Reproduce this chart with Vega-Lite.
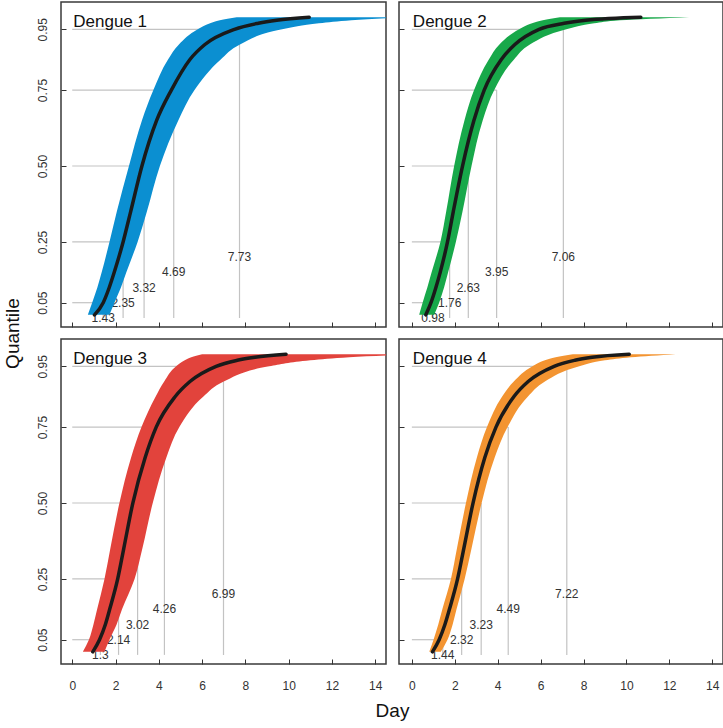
{
  "$schema": "https://vega.github.io/schema/vega-lite/v6.json",
  "background": "white",
  "padding": {"left": 2, "top": 1, "right": 0, "bottom": 0},
  "bounds": "flush",
  "spacing": {"row": 12, "column": 13},
  "columns": 2,
  "datasets": {
    "band": [
      {"panel": "Dengue 1", "p": 0.01, "lo": 0.72, "hi": 1.72},
      {"panel": "Dengue 1", "p": 0.05, "lo": 0.92, "hi": 1.95},
      {"panel": "Dengue 1", "p": 0.1, "lo": 1.16, "hi": 2.25},
      {"panel": "Dengue 1", "p": 0.15, "lo": 1.36, "hi": 2.5},
      {"panel": "Dengue 1", "p": 0.25, "lo": 1.72, "hi": 3.02},
      {"panel": "Dengue 1", "p": 0.35, "lo": 2.06, "hi": 3.45},
      {"panel": "Dengue 1", "p": 0.5, "lo": 2.62, "hi": 4.05},
      {"panel": "Dengue 1", "p": 0.65, "lo": 3.22, "hi": 4.9},
      {"panel": "Dengue 1", "p": 0.75, "lo": 3.75, "hi": 5.65},
      {"panel": "Dengue 1", "p": 0.85, "lo": 4.42, "hi": 6.85},
      {"panel": "Dengue 1", "p": 0.9, "lo": 4.93, "hi": 7.75},
      {"panel": "Dengue 1", "p": 0.95, "lo": 5.8, "hi": 9.7},
      {"panel": "Dengue 1", "p": 0.97, "lo": 6.37, "hi": 11.4},
      {"panel": "Dengue 1", "p": 0.98, "lo": 6.82, "hi": 12.9},
      {"panel": "Dengue 1", "p": 0.99, "lo": 7.6, "hi": 15.5},
      {"panel": "Dengue 2", "p": 0.01, "lo": 0.34, "hi": 1.04},
      {"panel": "Dengue 2", "p": 0.05, "lo": 0.5, "hi": 1.27},
      {"panel": "Dengue 2", "p": 0.1, "lo": 0.72, "hi": 1.5},
      {"panel": "Dengue 2", "p": 0.15, "lo": 0.92, "hi": 1.69},
      {"panel": "Dengue 2", "p": 0.25, "lo": 1.33, "hi": 2.05},
      {"panel": "Dengue 2", "p": 0.35, "lo": 1.6, "hi": 2.36},
      {"panel": "Dengue 2", "p": 0.5, "lo": 1.97, "hi": 2.78},
      {"panel": "Dengue 2", "p": 0.65, "lo": 2.45, "hi": 3.3},
      {"panel": "Dengue 2", "p": 0.75, "lo": 2.9, "hi": 3.84},
      {"panel": "Dengue 2", "p": 0.85, "lo": 3.58, "hi": 4.75},
      {"panel": "Dengue 2", "p": 0.9, "lo": 4.08, "hi": 5.5},
      {"panel": "Dengue 2", "p": 0.95, "lo": 5.0, "hi": 7.2},
      {"panel": "Dengue 2", "p": 0.97, "lo": 5.6, "hi": 8.5},
      {"panel": "Dengue 2", "p": 0.98, "lo": 6.1, "hi": 9.7},
      {"panel": "Dengue 2", "p": 0.99, "lo": 6.9, "hi": 12.92},
      {"panel": "Dengue 3", "p": 0.01, "lo": 0.49, "hi": 1.49},
      {"panel": "Dengue 3", "p": 0.05, "lo": 0.77, "hi": 1.72},
      {"panel": "Dengue 3", "p": 0.1, "lo": 0.98, "hi": 2.05},
      {"panel": "Dengue 3", "p": 0.15, "lo": 1.15, "hi": 2.3},
      {"panel": "Dengue 3", "p": 0.25, "lo": 1.49, "hi": 2.88},
      {"panel": "Dengue 3", "p": 0.35, "lo": 1.76, "hi": 3.24},
      {"panel": "Dengue 3", "p": 0.5, "lo": 2.18, "hi": 3.72},
      {"panel": "Dengue 3", "p": 0.65, "lo": 2.72, "hi": 4.35},
      {"panel": "Dengue 3", "p": 0.75, "lo": 3.2, "hi": 4.95},
      {"panel": "Dengue 3", "p": 0.85, "lo": 3.85, "hi": 6.05},
      {"panel": "Dengue 3", "p": 0.9, "lo": 4.25, "hi": 7.0},
      {"panel": "Dengue 3", "p": 0.95, "lo": 4.8, "hi": 9.1},
      {"panel": "Dengue 3", "p": 0.97, "lo": 5.2, "hi": 11.0},
      {"panel": "Dengue 3", "p": 0.98, "lo": 5.5, "hi": 12.8},
      {"panel": "Dengue 3", "p": 0.99, "lo": 6.0, "hi": 16.0},
      {"panel": "Dengue 4", "p": 0.01, "lo": 0.81, "hi": 1.35},
      {"panel": "Dengue 4", "p": 0.05, "lo": 1.01, "hi": 1.66},
      {"panel": "Dengue 4", "p": 0.1, "lo": 1.23, "hi": 1.9},
      {"panel": "Dengue 4", "p": 0.15, "lo": 1.42, "hi": 2.08},
      {"panel": "Dengue 4", "p": 0.25, "lo": 1.82, "hi": 2.46},
      {"panel": "Dengue 4", "p": 0.35, "lo": 2.1, "hi": 2.78},
      {"panel": "Dengue 4", "p": 0.5, "lo": 2.52, "hi": 3.25},
      {"panel": "Dengue 4", "p": 0.65, "lo": 3.03, "hi": 3.86},
      {"panel": "Dengue 4", "p": 0.75, "lo": 3.5, "hi": 4.46},
      {"panel": "Dengue 4", "p": 0.85, "lo": 4.2, "hi": 5.4},
      {"panel": "Dengue 4", "p": 0.9, "lo": 4.75, "hi": 6.2},
      {"panel": "Dengue 4", "p": 0.95, "lo": 5.62, "hi": 7.8},
      {"panel": "Dengue 4", "p": 0.97, "lo": 6.2, "hi": 9.0},
      {"panel": "Dengue 4", "p": 0.98, "lo": 6.7, "hi": 10.2},
      {"panel": "Dengue 4", "p": 0.99, "lo": 7.5, "hi": 12.3}
    ],
    "med": [
      {"panel": "Dengue 1", "p": 0.01, "x": 1.03},
      {"panel": "Dengue 1", "p": 0.05, "x": 1.43},
      {"panel": "Dengue 1", "p": 0.1, "x": 1.71},
      {"panel": "Dengue 1", "p": 0.15, "x": 1.94},
      {"panel": "Dengue 1", "p": 0.25, "x": 2.35},
      {"panel": "Dengue 1", "p": 0.35, "x": 2.7},
      {"panel": "Dengue 1", "p": 0.5, "x": 3.22},
      {"panel": "Dengue 1", "p": 0.65, "x": 3.9},
      {"panel": "Dengue 1", "p": 0.75, "x": 4.58},
      {"panel": "Dengue 1", "p": 0.85, "x": 5.43},
      {"panel": "Dengue 1", "p": 0.9, "x": 6.13},
      {"panel": "Dengue 1", "p": 0.95, "x": 7.5},
      {"panel": "Dengue 1", "p": 0.97, "x": 8.6},
      {"panel": "Dengue 1", "p": 0.98, "x": 9.45},
      {"panel": "Dengue 1", "p": 0.99, "x": 10.95},
      {"panel": "Dengue 2", "p": 0.01, "x": 0.65},
      {"panel": "Dengue 2", "p": 0.05, "x": 0.89},
      {"panel": "Dengue 2", "p": 0.1, "x": 1.12},
      {"panel": "Dengue 2", "p": 0.15, "x": 1.32},
      {"panel": "Dengue 2", "p": 0.25, "x": 1.66},
      {"panel": "Dengue 2", "p": 0.35, "x": 1.93},
      {"panel": "Dengue 2", "p": 0.5, "x": 2.36},
      {"panel": "Dengue 2", "p": 0.65, "x": 2.89},
      {"panel": "Dengue 2", "p": 0.75, "x": 3.37},
      {"panel": "Dengue 2", "p": 0.85, "x": 4.16},
      {"panel": "Dengue 2", "p": 0.9, "x": 4.8},
      {"panel": "Dengue 2", "p": 0.95, "x": 5.93},
      {"panel": "Dengue 2", "p": 0.97, "x": 7.1},
      {"panel": "Dengue 2", "p": 0.98, "x": 8.1},
      {"panel": "Dengue 2", "p": 0.99, "x": 10.67},
      {"panel": "Dengue 3", "p": 0.01, "x": 0.95},
      {"panel": "Dengue 3", "p": 0.05, "x": 1.26},
      {"panel": "Dengue 3", "p": 0.1, "x": 1.53},
      {"panel": "Dengue 3", "p": 0.15, "x": 1.73},
      {"panel": "Dengue 3", "p": 0.25, "x": 2.1},
      {"panel": "Dengue 3", "p": 0.35, "x": 2.38},
      {"panel": "Dengue 3", "p": 0.5, "x": 2.8},
      {"panel": "Dengue 3", "p": 0.65, "x": 3.37},
      {"panel": "Dengue 3", "p": 0.75, "x": 3.88},
      {"panel": "Dengue 3", "p": 0.85, "x": 4.75},
      {"panel": "Dengue 3", "p": 0.9, "x": 5.44},
      {"panel": "Dengue 3", "p": 0.95, "x": 6.65},
      {"panel": "Dengue 3", "p": 0.97, "x": 7.63},
      {"panel": "Dengue 3", "p": 0.98, "x": 8.44},
      {"panel": "Dengue 3", "p": 0.99, "x": 9.88},
      {"panel": "Dengue 4", "p": 0.01, "x": 0.96},
      {"panel": "Dengue 4", "p": 0.05, "x": 1.27},
      {"panel": "Dengue 4", "p": 0.1, "x": 1.54},
      {"panel": "Dengue 4", "p": 0.15, "x": 1.75},
      {"panel": "Dengue 4", "p": 0.25, "x": 2.13},
      {"panel": "Dengue 4", "p": 0.35, "x": 2.42},
      {"panel": "Dengue 4", "p": 0.5, "x": 2.85},
      {"panel": "Dengue 4", "p": 0.65, "x": 3.4},
      {"panel": "Dengue 4", "p": 0.75, "x": 3.92},
      {"panel": "Dengue 4", "p": 0.85, "x": 4.75},
      {"panel": "Dengue 4", "p": 0.9, "x": 5.42},
      {"panel": "Dengue 4", "p": 0.95, "x": 6.63},
      {"panel": "Dengue 4", "p": 0.97, "x": 7.6},
      {"panel": "Dengue 4", "p": 0.98, "x": 8.4},
      {"panel": "Dengue 4", "p": 0.99, "x": 10.13}
    ],
    "quant": [
      {"panel": "Dengue 1", "p": 0.05, "q": 1.43, "lab": "1.43", "ly": 0.0},
      {"panel": "Dengue 1", "p": 0.25, "q": 2.35, "lab": "2.35", "ly": 0.05},
      {"panel": "Dengue 1", "p": 0.5, "q": 3.32, "lab": "3.32", "ly": 0.1},
      {"panel": "Dengue 1", "p": 0.75, "q": 4.69, "lab": "4.69", "ly": 0.15},
      {"panel": "Dengue 1", "p": 0.95, "q": 7.73, "lab": "7.73", "ly": 0.2},
      {"panel": "Dengue 2", "p": 0.05, "q": 0.98, "lab": "0.98", "ly": 0.0},
      {"panel": "Dengue 2", "p": 0.25, "q": 1.76, "lab": "1.76", "ly": 0.05},
      {"panel": "Dengue 2", "p": 0.5, "q": 2.63, "lab": "2.63", "ly": 0.1},
      {"panel": "Dengue 2", "p": 0.75, "q": 3.95, "lab": "3.95", "ly": 0.15},
      {"panel": "Dengue 2", "p": 0.95, "q": 7.06, "lab": "7.06", "ly": 0.2},
      {"panel": "Dengue 3", "p": 0.05, "q": 1.3, "lab": "1.3", "ly": 0.0},
      {"panel": "Dengue 3", "p": 0.25, "q": 2.14, "lab": "2.14", "ly": 0.05},
      {"panel": "Dengue 3", "p": 0.5, "q": 3.02, "lab": "3.02", "ly": 0.1},
      {"panel": "Dengue 3", "p": 0.75, "q": 4.26, "lab": "4.26", "ly": 0.15},
      {"panel": "Dengue 3", "p": 0.95, "q": 6.99, "lab": "6.99", "ly": 0.2},
      {"panel": "Dengue 4", "p": 0.05, "q": 1.44, "lab": "1.44", "ly": 0.0},
      {"panel": "Dengue 4", "p": 0.25, "q": 2.32, "lab": "2.32", "ly": 0.05},
      {"panel": "Dengue 4", "p": 0.5, "q": 3.23, "lab": "3.23", "ly": 0.1},
      {"panel": "Dengue 4", "p": 0.75, "q": 4.49, "lab": "4.49", "ly": 0.15},
      {"panel": "Dengue 4", "p": 0.95, "q": 7.22, "lab": "7.22", "ly": 0.2}
    ],
    "names": [
      {"panel": "Dengue 1"},
      {"panel": "Dengue 2"},
      {"panel": "Dengue 3"},
      {"panel": "Dengue 4"}
    ]
  },
  "concat": [
    {
      "width": 325, "height": 325,
      "layer": [
        {"data": {"name": "quant"}, "transform": [{"filter": "datum.panel === 'Dengue 1'"}],
         "mark": {"type": "rule", "color": "#c3c3c3", "strokeWidth": 1.2},
         "encoding": {
           "x": {"field": "q", "type": "quantitative", "scale": {"domain": [-0.52, 14.5], "nice": false, "zero": false},
                 "axis": {"values": [0,2,4,6,8,10,12,14], "labels": false, "title": null}},
           "y": {"field": "p", "type": "quantitative", "scale": {"domain": [-0.03, 1.04], "nice": false, "zero": false},
                 "axis": {"values": [0.05,0.25,0.5,0.75,0.95], "format": ".2f", "labelAngle": -90, "title": "Quantile", "titleY": 331, "titlePadding": 14}},
           "y2": {"datum": 0}}},
        {"data": {"name": "quant"}, "transform": [{"filter": "datum.panel === 'Dengue 1'"}],
         "mark": {"type": "rule", "color": "#c3c3c3", "strokeWidth": 1.2},
         "encoding": {"x": {"field": "q", "type": "quantitative"}, "x2": {"datum": 0}, "y": {"field": "p", "type": "quantitative"}}},
        {"data": {"name": "quant"}, "transform": [{"filter": "datum.panel === 'Dengue 1'"}],
         "mark": {"type": "text", "font": "Liberation Sans", "fontSize": 12, "color": "#333", "baseline": "middle"},
         "encoding": {"x": {"field": "q", "type": "quantitative"}, "y": {"field": "ly", "type": "quantitative"}, "text": {"field": "lab"}}},
        {"data": {"name": "band"}, "transform": [{"filter": "datum.panel === 'Dengue 1'"}],
         "mark": {"type": "area", "orient": "horizontal", "color": "#0b8fd1", "interpolate": "monotone", "clip": true},
         "encoding": {"y": {"field": "p", "type": "quantitative"}, "x": {"field": "lo", "type": "quantitative"}, "x2": {"field": "hi"}}},
        {"data": {"name": "med"}, "transform": [{"filter": "datum.panel === 'Dengue 1'"}],
         "mark": {"type": "line", "color": "#1a1a1a", "strokeWidth": 3.5, "interpolate": "monotone", "strokeCap": "round"},
         "encoding": {"y": {"field": "p", "type": "quantitative"}, "x": {"field": "x", "type": "quantitative"}}},
        {"data": {"name": "names"}, "transform": [{"filter": "datum.panel === 'Dengue 1'"}],
         "mark": {"type": "text", "font": "Liberation Sans", "fontSize": 17, "color": "#111", "align": "left", "dx": 1},
         "encoding": {"x": {"datum": 0, "type": "quantitative"}, "y": {"datum": 0.975, "type": "quantitative"}, "text": {"field": "panel"}}}
      ]
    },
    {
      "width": 324, "height": 325,
      "layer": [
        {"data": {"name": "quant"}, "transform": [{"filter": "datum.panel === 'Dengue 2'"}],
         "mark": {"type": "rule", "color": "#c3c3c3", "strokeWidth": 1.2},
         "encoding": {
           "x": {"field": "q", "type": "quantitative", "scale": {"domain": [-0.6, 14.5], "nice": false, "zero": false},
                 "axis": {"values": [0,2,4,6,8,10,12,14], "labels": false, "title": null}},
           "y": {"field": "p", "type": "quantitative", "scale": {"domain": [-0.03, 1.04], "nice": false, "zero": false},
                 "axis": {"values": [0.05,0.25,0.5,0.75,0.95], "labels": false, "title": null}},
           "y2": {"datum": 0}}},
        {"data": {"name": "quant"}, "transform": [{"filter": "datum.panel === 'Dengue 2'"}],
         "mark": {"type": "rule", "color": "#c3c3c3", "strokeWidth": 1.2},
         "encoding": {"x": {"field": "q", "type": "quantitative"}, "x2": {"datum": 0}, "y": {"field": "p", "type": "quantitative"}}},
        {"data": {"name": "quant"}, "transform": [{"filter": "datum.panel === 'Dengue 2'"}],
         "mark": {"type": "text", "font": "Liberation Sans", "fontSize": 12, "color": "#333", "baseline": "middle"},
         "encoding": {"x": {"field": "q", "type": "quantitative"}, "y": {"field": "ly", "type": "quantitative"}, "text": {"field": "lab"}}},
        {"data": {"name": "band"}, "transform": [{"filter": "datum.panel === 'Dengue 2'"}],
         "mark": {"type": "area", "orient": "horizontal", "color": "#18a84a", "interpolate": "monotone", "clip": true},
         "encoding": {"y": {"field": "p", "type": "quantitative"}, "x": {"field": "lo", "type": "quantitative"}, "x2": {"field": "hi"}}},
        {"data": {"name": "med"}, "transform": [{"filter": "datum.panel === 'Dengue 2'"}],
         "mark": {"type": "line", "color": "#1a1a1a", "strokeWidth": 3.5, "interpolate": "monotone", "strokeCap": "round"},
         "encoding": {"y": {"field": "p", "type": "quantitative"}, "x": {"field": "x", "type": "quantitative"}}},
        {"data": {"name": "names"}, "transform": [{"filter": "datum.panel === 'Dengue 2'"}],
         "mark": {"type": "text", "font": "Liberation Sans", "fontSize": 17, "color": "#111", "align": "left", "dx": 1},
         "encoding": {"x": {"datum": 0, "type": "quantitative"}, "y": {"datum": 0.975, "type": "quantitative"}, "text": {"field": "panel"}}}
      ]
    },
    {
      "width": 325, "height": 325,
      "layer": [
        {"data": {"name": "quant"}, "transform": [{"filter": "datum.panel === 'Dengue 3'"}],
         "mark": {"type": "rule", "color": "#c3c3c3", "strokeWidth": 1.2},
         "encoding": {
           "x": {"field": "q", "type": "quantitative", "scale": {"domain": [-0.52, 14.5], "nice": false, "zero": false},
                 "axis": {"values": [0,2,4,6,8,10,12,14], "title": "Day", "titleX": 331, "titlePadding": 10}},
           "y": {"field": "p", "type": "quantitative", "scale": {"domain": [-0.03, 1.04], "nice": false, "zero": false},
                 "axis": {"values": [0.05,0.25,0.5,0.75,0.95], "format": ".2f", "labelAngle": -90, "title": null}},
           "y2": {"datum": 0}}},
        {"data": {"name": "quant"}, "transform": [{"filter": "datum.panel === 'Dengue 3'"}],
         "mark": {"type": "rule", "color": "#c3c3c3", "strokeWidth": 1.2},
         "encoding": {"x": {"field": "q", "type": "quantitative"}, "x2": {"datum": 0}, "y": {"field": "p", "type": "quantitative"}}},
        {"data": {"name": "quant"}, "transform": [{"filter": "datum.panel === 'Dengue 3'"}],
         "mark": {"type": "text", "font": "Liberation Sans", "fontSize": 12, "color": "#333", "baseline": "middle"},
         "encoding": {"x": {"field": "q", "type": "quantitative"}, "y": {"field": "ly", "type": "quantitative"}, "text": {"field": "lab"}}},
        {"data": {"name": "band"}, "transform": [{"filter": "datum.panel === 'Dengue 3'"}],
         "mark": {"type": "area", "orient": "horizontal", "color": "#e2433c", "interpolate": "monotone", "clip": true},
         "encoding": {"y": {"field": "p", "type": "quantitative"}, "x": {"field": "lo", "type": "quantitative"}, "x2": {"field": "hi"}}},
        {"data": {"name": "med"}, "transform": [{"filter": "datum.panel === 'Dengue 3'"}],
         "mark": {"type": "line", "color": "#1a1a1a", "strokeWidth": 3.5, "interpolate": "monotone", "strokeCap": "round"},
         "encoding": {"y": {"field": "p", "type": "quantitative"}, "x": {"field": "x", "type": "quantitative"}}},
        {"data": {"name": "names"}, "transform": [{"filter": "datum.panel === 'Dengue 3'"}],
         "mark": {"type": "text", "font": "Liberation Sans", "fontSize": 17, "color": "#111", "align": "left", "dx": 1},
         "encoding": {"x": {"datum": 0, "type": "quantitative"}, "y": {"datum": 0.975, "type": "quantitative"}, "text": {"field": "panel"}}}
      ]
    },
    {
      "width": 324, "height": 325,
      "layer": [
        {"data": {"name": "quant"}, "transform": [{"filter": "datum.panel === 'Dengue 4'"}],
         "mark": {"type": "rule", "color": "#c3c3c3", "strokeWidth": 1.2},
         "encoding": {
           "x": {"field": "q", "type": "quantitative", "scale": {"domain": [-0.6, 14.5], "nice": false, "zero": false},
                 "axis": {"values": [0,2,4,6,8,10,12,14], "title": null}},
           "y": {"field": "p", "type": "quantitative", "scale": {"domain": [-0.03, 1.04], "nice": false, "zero": false},
                 "axis": {"values": [0.05,0.25,0.5,0.75,0.95], "labels": false, "title": null}},
           "y2": {"datum": 0}}},
        {"data": {"name": "quant"}, "transform": [{"filter": "datum.panel === 'Dengue 4'"}],
         "mark": {"type": "rule", "color": "#c3c3c3", "strokeWidth": 1.2},
         "encoding": {"x": {"field": "q", "type": "quantitative"}, "x2": {"datum": 0}, "y": {"field": "p", "type": "quantitative"}}},
        {"data": {"name": "quant"}, "transform": [{"filter": "datum.panel === 'Dengue 4'"}],
         "mark": {"type": "text", "font": "Liberation Sans", "fontSize": 12, "color": "#333", "baseline": "middle"},
         "encoding": {"x": {"field": "q", "type": "quantitative"}, "y": {"field": "ly", "type": "quantitative"}, "text": {"field": "lab"}}},
        {"data": {"name": "band"}, "transform": [{"filter": "datum.panel === 'Dengue 4'"}],
         "mark": {"type": "area", "orient": "horizontal", "color": "#f39431", "interpolate": "monotone", "clip": true},
         "encoding": {"y": {"field": "p", "type": "quantitative"}, "x": {"field": "lo", "type": "quantitative"}, "x2": {"field": "hi"}}},
        {"data": {"name": "med"}, "transform": [{"filter": "datum.panel === 'Dengue 4'"}],
         "mark": {"type": "line", "color": "#1a1a1a", "strokeWidth": 3.5, "interpolate": "monotone", "strokeCap": "round"},
         "encoding": {"y": {"field": "p", "type": "quantitative"}, "x": {"field": "x", "type": "quantitative"}}},
        {"data": {"name": "names"}, "transform": [{"filter": "datum.panel === 'Dengue 4'"}],
         "mark": {"type": "text", "font": "Liberation Sans", "fontSize": 17, "color": "#111", "align": "left", "dx": 1},
         "encoding": {"x": {"datum": 0, "type": "quantitative"}, "y": {"datum": 0.975, "type": "quantitative"}, "text": {"field": "panel"}}}
      ]
    }
  ],
  "config": {
    "view": {"stroke": "#3a3a3a", "strokeWidth": 1.5},
    "axis": {"domain": false, "grid": false, "tickColor": "#333", "tickSize": -5, "tickWidth": 1, "labelColor": "#333", "labelFont": "Liberation Sans", "labelFontSize": 12, "titleFont": "Liberation Sans", "titleFontSize": 19, "titleFontWeight": "normal", "titleColor": "#111"},
    "axisX": {"labelPadding": 21},
    "axisY": {"labelPadding": 17}
  }
}
